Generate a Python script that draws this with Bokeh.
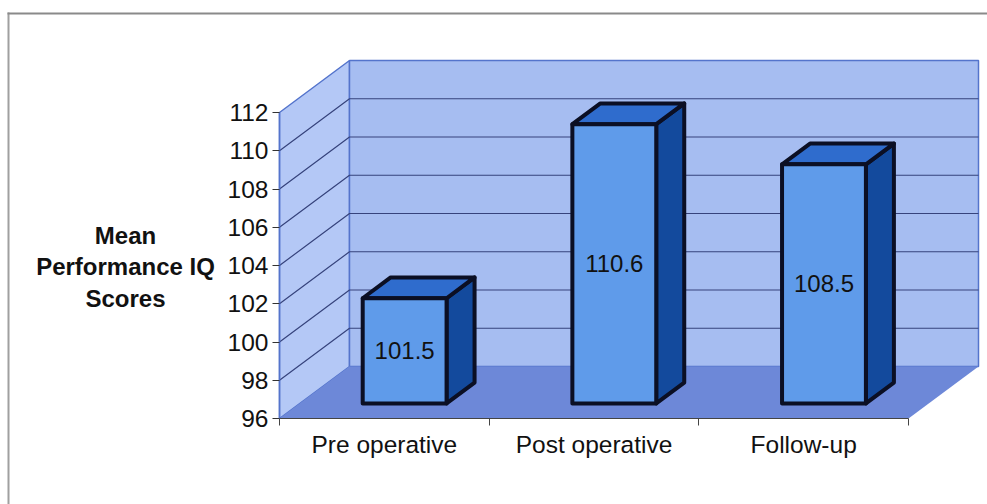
from bokeh.plotting import figure
from bokeh.models import FixedTicker, Label, Range1d, BoxAnnotation
from bokeh.embed import file_html
from bokeh.resources import INLINE

# Mean Performance IQ at each assessment
categories = ["Pre operative", "Post operative", "Follow-up"]
scores = [101.5, 110.6, 108.5]
y_ticks = [96, 98, 100, 102, 104, 106, 108, 110, 112]
y_title_lines = ["Mean", "Performance IQ", "Scores"]

WIDTH, HEIGHT = 987, 504
LEFT, BASE = 279, 86                # origin of the chart box from the left and bottom edge
PX_X, PX_Y = 209.67, 19.125         # pixels per category and per score point
DEPTH_X, DEPTH_Y = 70 / PX_X, 52 / PX_Y   # oblique depth of the chart box
BAR_W, BAR_D0, BAR_D1 = 0.40, 0.29, 0.69  # bar width, near and far depth

WALL, SIDE, FLOOR = "#a6bdf1", "#b4c8f6", "#6d88d8"
EDGE, GRID = "#5474cc", "#36437c"
FRONT, TOP, RIGHT = "#5f9bea", "#2f6ccd", "#134a9d"
INK = "#0b0f24"
FONT = "Liberation Sans"


def at(x, v, d=0.0):
    """Project a category position, score and depth fraction onto the page."""
    return x + d * DEPTH_X, v + d * DEPTH_Y


def poly(corners, **kw):
    p.patch([c[0] for c in corners], [c[1] for c in corners], **kw)


lo, hi, n = y_ticks[0], y_ticks[-1], len(categories)

p = figure(width=WIDTH, height=HEIGHT, output_backend="svg", toolbar_location=None,
           x_range=Range1d(-LEFT / PX_X, (WIDTH - LEFT) / PX_X),
           y_range=Range1d(lo - BASE / PX_Y, lo + (HEIGHT - BASE) / PX_Y),
           min_border=0)
p.grid.visible = False
p.outline_line_color = None
p.background_fill_color = "white"

# Chart box: side wall, back wall and floor
poly([at(0, lo), at(0, hi), at(0, hi, 1), at(0, lo, 1)], fill_color=SIDE, line_color=EDGE, line_width=1.5)
poly([at(0, lo, 1), at(0, hi, 1), at(n, hi, 1), at(n, lo, 1)], fill_color=WALL, line_color=EDGE, line_width=1.5)
poly([at(0, lo), at(0, lo, 1), at(n, lo, 1), at(n, lo)], fill_color=FLOOR, line_color=None)

# Gridlines run across the side wall and along the back wall
for t in y_ticks[1:-1]:
    pts = [at(0, t), at(0, t, 1), at(n, t, 1)]
    p.line([q[0] for q in pts], [q[1] for q in pts], line_color=GRID, line_width=1.2)

# Oblique bars with their values on the front faces
for i, v in enumerate(scores):
    x0, x1 = i + 0.5 - BAR_W / 2, i + 0.5 + BAR_W / 2
    style = dict(line_color=INK, line_width=4, line_join="round")
    poly([at(x1, lo, BAR_D0), at(x1, v, BAR_D0), at(x1, v, BAR_D1), at(x1, lo, BAR_D1)], fill_color=RIGHT, **style)
    poly([at(x0, v, BAR_D0), at(x0, v, BAR_D1), at(x1, v, BAR_D1), at(x1, v, BAR_D0)], fill_color=TOP, **style)
    poly([at(x0, lo, BAR_D0), at(x0, v, BAR_D0), at(x1, v, BAR_D0), at(x1, lo, BAR_D0)], fill_color=FRONT, **style)
    cx, cy = at(i + 0.5, (lo + v) / 2, BAR_D0)
    p.add_layout(Label(x=cx, y=cy, text=f"{v:.1f}", text_align="center", text_baseline="middle",
                       text_font=FONT, text_font_size="24px", text_color="#111111"))

# Axes sit on the front edge of the box
ax = p.yaxis[0]
ax.fixed_location = 0
ax.ticker = FixedTicker(ticks=y_ticks)
ax.bounds = (lo, hi)
ax.axis_line_color = EDGE
ax.axis_line_width = 1.5
ax.major_tick_line_color = "#333333"
ax.major_tick_in = 0
ax.major_tick_out = 7
ax.minor_tick_line_color = None
ax.major_label_standoff = 4
ax.major_label_text_font = FONT
ax.major_label_text_font_size = "24.5px"
ax.major_label_text_color = "#111111"

bx = p.xaxis[0]
bx.fixed_location = lo
bx.ticker = FixedTicker(ticks=[i + 0.5 for i in range(n)], minor_ticks=list(range(n + 1)))
bx.major_label_overrides = {i + 0.5: c for i, c in enumerate(categories)}
bx.bounds = (0, n)
bx.axis_line_color = "#444444"
bx.axis_line_width = 1.2
bx.major_tick_line_color = None
bx.minor_tick_line_color = "#444444"
bx.minor_tick_in = 0
bx.minor_tick_out = 7
bx.major_label_standoff = 5
bx.major_label_text_font = FONT
bx.major_label_text_font_size = "24.5px"
bx.major_label_text_color = "#111111"

# Score-axis caption, set horizontally beside the ticks
for line, sy in zip(y_title_lines, [269, 238, 206]):
    p.add_layout(Label(x=125, y=sy, x_units="screen", y_units="screen", text=line,
                       text_align="center", text_baseline="middle", text_font=FONT,
                       text_font_size="24px", text_font_style="bold", text_color="#111111"))

# Thin grey page frame on the left and top
p.add_layout(BoxAnnotation(left=7, right=9, top=492, bottom=0, left_units="screen", right_units="screen",
                           top_units="screen", bottom_units="screen", fill_color="#a0a0a0", fill_alpha=1, line_color=None))
p.add_layout(BoxAnnotation(left=7, right=987, top=492, bottom=490, left_units="screen", right_units="screen",
                           top_units="screen", bottom_units="screen", fill_color="#8a8a8a", fill_alpha=1, line_color=None))

open("out.html", "w").write(file_html(p, INLINE))
